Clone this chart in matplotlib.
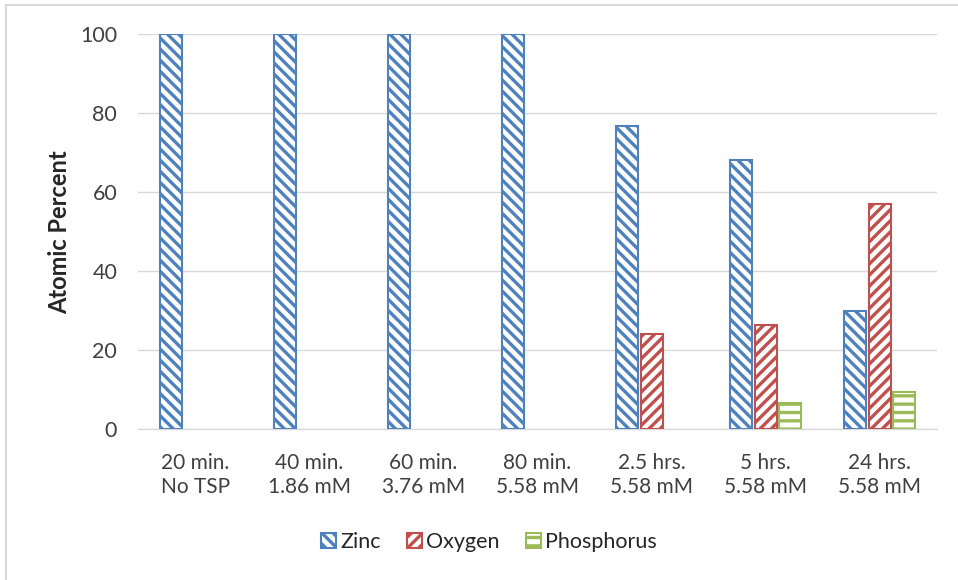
import matplotlib
matplotlib.use("Agg")
import matplotlib.pyplot as plt
import numpy as np
from matplotlib.lines import Line2D

plt.rcParams['font.family'] = ['Lato', 'DejaVu Sans']
plt.rcParams['hatch.linewidth'] = 2.4

categories = ["20 min.\nNo TSP", "40 min.\n1.86 mM", "60 min.\n3.76 mM", "80 min.\n5.58 mM",
              "2.5 hrs.\n5.58 mM", "5 hrs.\n5.58 mM", "24 hrs.\n5.58 mM"]
zinc = [100, 100, 100, 100, 76.5, 68.0, 29.8]
oxygen = [0, 0, 0, 0, 24.0, 26.3, 57.0]
phosphorus = [0, 0, 0, 0, 0, 6.6, 9.4]
series_names = ["Zinc", "Oxygen", "Phosphorus"]
yticks = [0, 20, 40, 60, 80, 100]

colors = ["#4F81BD", "#C0504D", "#9BBB59"]
hatches = ["\\\\\\", "///", "--"]

fig = plt.figure(figsize=(9.58, 5.8), dpi=100)
ax = fig.add_axes([138/958, 1-429/580, (937-138)/958, (429-33.5)/580])

x = np.arange(len(categories))
w = 0.193
step = 0.215
for i, (vals, name) in enumerate(zip([zinc, oxygen, phosphorus], series_names)):
    xs = x + (i - 1) * step
    v = np.array(vals, dtype=float)
    mask = v > 0
    ax.bar(xs[mask], v[mask], width=w, facecolor="white", edgecolor=colors[i],
           hatch=hatches[i], linewidth=1.5, label=name, zorder=3)

ax.set_xlim(-0.5, len(categories) - 0.5)
ax.set_ylim(0, 100)
ax.set_yticks(yticks)
ax.set_yticklabels([str(t) for t in yticks], fontsize=15.5, color="#404040")
ax.set_xticks(x)
ax.set_xticklabels(categories, fontsize=15, color="#404040", linespacing=1.3)
ax.tick_params(axis="both", length=0)
ax.tick_params(axis="y", pad=15)
ax.tick_params(axis="x", pad=17)
ax.grid(axis="y", color="#d9d9d9", linewidth=1.0, zorder=0)
ax.set_axisbelow(True)
for s in ["top", "right", "left"]:
    ax.spines[s].set_visible(False)
ax.spines["bottom"].set_color("#d9d9d9")
ax.spines["bottom"].set_linewidth(1.0)

fig.text(60/958, 1-232/580, "Atomic Percent", rotation=90, ha="center", va="center",
         fontsize=17, fontweight="bold", color="#262626")

leg = fig.legend(loc="center", bbox_to_anchor=(489/958, 1-542/580), ncol=3, frameon=False,
                 fontsize=15.5, handlelength=0.7, handleheight=0.7, handletextpad=0.2,
                 columnspacing=1.2, labelcolor="#262626")

fig.add_artist(Line2D([5.5/958, 5.5/958], [0, 1-5/580], transform=fig.transFigure,
                      color="#d9d9d9", linewidth=1.5))
fig.add_artist(Line2D([5.5/958, 1], [1-5/580, 1-5/580], transform=fig.transFigure,
                      color="#d9d9d9", linewidth=1.5))

fig.savefig("out.png", dpi=100, facecolor="white")
